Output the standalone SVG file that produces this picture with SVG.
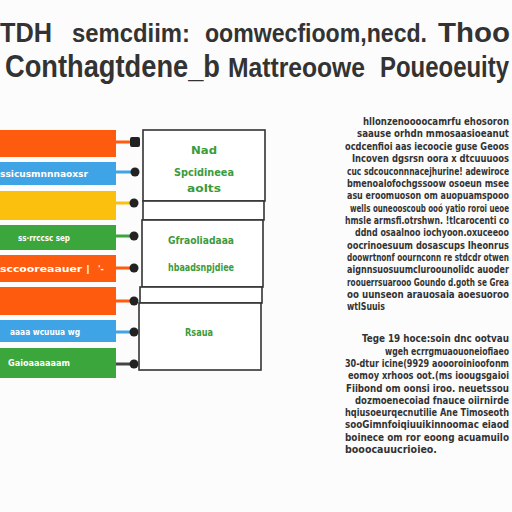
<svg xmlns="http://www.w3.org/2000/svg" width="512" height="512" viewBox="0 0 512 512">
<style>
.t1{font-family:"Liberation Sans","DejaVu Sans",sans-serif;font-weight:bold;fill:#333}
.bt{font-family:"DejaVu Sans Condensed","Liberation Sans",sans-serif;font-weight:bold;font-size:9px;fill:#fff}
.gt{font-family:"DejaVu Sans Condensed","Liberation Sans",sans-serif;font-weight:bold;font-size:10px;fill:#3c9b3c;text-anchor:middle}
.pt{font-family:"DejaVu Sans Condensed","Liberation Sans Narrow",sans-serif;font-weight:bold;font-size:10px;fill:#333}
.box{fill:#fff;stroke:#333;stroke-width:1.6}
.dot{fill:#222}
.o{fill:#ff5b0f}.b{fill:#3ea4e6}.y{fill:#fbbf0e}.g{fill:#3ba63c}
</style>
<rect width="512" height="512" fill="#fcfcfc"/>
<g id="title">
<text class="t1" x="0" y="42" font-size="27" textLength="52" lengthAdjust="spacingAndGlyphs">TDH</text>
<text class="t1" x="72" y="42" font-size="25" textLength="118" lengthAdjust="spacingAndGlyphs">semcdiim:</text>
<text class="t1" x="205" y="42" font-size="25" textLength="222" lengthAdjust="spacingAndGlyphs">oomwecfioom,necd.</text>
<text class="t1" x="438" y="42" font-size="27" textLength="72" lengthAdjust="spacingAndGlyphs">Thoo</text>
<text class="t1" x="5" y="77" font-size="31" textLength="215" lengthAdjust="spacingAndGlyphs">Conthagtdene_b</text>
<text class="t1" x="228" y="77" font-size="28" textLength="137" lengthAdjust="spacingAndGlyphs">Mattreoowe</text>
<text class="t1" x="380" y="77" font-size="29" textLength="129" lengthAdjust="spacingAndGlyphs">Poueoeuity</text>
</g>
<g id="bar1"><rect class="o" x="0" y="130" width="116" height="27"/></g>
<g id="bar2"><rect class="b" x="0" y="162" width="116" height="23"/><text class="bt" x="0" y="177" textLength="88" lengthAdjust="spacingAndGlyphs">ssicusmnnnaoxsr</text></g>
<g id="bar3"><rect class="y" x="0" y="191" width="116" height="29"/></g>
<g id="bar4"><rect class="g" x="0" y="225" width="116" height="25"/><text class="bt" x="18" y="241" textLength="52" lengthAdjust="spacingAndGlyphs">ss·rrccsc sep</text></g>
<g id="bar5"><rect class="o" x="0" y="255" width="116" height="27"/><text class="bt" x="0" y="272" textLength="90" lengthAdjust="spacingAndGlyphs">sccooreaauer |</text><text class="bt" x="98" y="272" fill="#ffd0b0">'-</text></g>
<g id="bar6"><rect class="o" x="0" y="287" width="116" height="28"/></g>
<g id="bar7"><rect class="b" x="0" y="320" width="116" height="22"/><text class="bt" x="10" y="335" textLength="70" lengthAdjust="spacingAndGlyphs">aaaa  wcuuua wg</text></g>
<g id="bar8"><rect class="g" x="0" y="348" width="116" height="30"/><text class="bt" x="8" y="366" textLength="62" lengthAdjust="spacingAndGlyphs">Gaioaaaaaam</text></g>
<g id="connectors" stroke-width="3">
<line x1="116" y1="142" x2="132" y2="142" stroke="#ff5b0f"/>
<line x1="116" y1="172" x2="132" y2="172" stroke="#3ea4e6"/>
<line x1="116" y1="203" x2="132" y2="203" stroke="#fbbf0e"/>
<line x1="116" y1="236" x2="132" y2="236" stroke="#3ba63c"/>
<line x1="116" y1="268" x2="132" y2="268" stroke="#ff5b0f"/>
<line x1="116" y1="301" x2="132" y2="301" stroke="#ff5b0f"/>
<line x1="116" y1="332" x2="132" y2="332" stroke="#3ea4e6"/>
<line x1="116" y1="364" x2="132" y2="364" stroke="#444"/>
<rect class="dot" x="130" y="137" width="10" height="10" rx="2" stroke="none"/>
<circle class="dot" cx="135" cy="172" r="4.5" stroke="none"/>
<circle class="dot" cx="134" cy="203" r="4.5" stroke="none"/>
<circle class="dot" cx="134" cy="236" r="4.5" stroke="none"/>
<circle class="dot" cx="134" cy="268" r="4.5" stroke="none"/>
<circle class="dot" cx="134" cy="301" r="4.5" stroke="none"/>
<circle class="dot" cx="134" cy="332" r="4.5" stroke="none"/>
<circle class="dot" cx="134" cy="364" r="4.5" stroke="none"/>
</g>
<g id="boxA"><rect class="box" x="143" y="130" width="122" height="71"/>
<text class="gt" x="204" y="154" textLength="26" lengthAdjust="spacingAndGlyphs">Nad</text>
<text class="gt" x="204" y="176" textLength="60" lengthAdjust="spacingAndGlyphs">Spcidineea</text>
<text class="gt" x="204" y="192" textLength="34" lengthAdjust="spacingAndGlyphs">aolts</text></g>
<g id="boxB"><rect class="box" x="143" y="201" width="121" height="19"/></g>
<g id="boxC"><rect class="box" x="142" y="220" width="121" height="67"/>
<text class="gt" x="201" y="244" textLength="66" lengthAdjust="spacingAndGlyphs">Gfraoliadaaa</text>
<text class="gt" x="201" y="271" textLength="66" lengthAdjust="spacingAndGlyphs">hbaadsnpjdiee</text></g>
<g id="boxD"><rect class="box" x="140" y="287" width="122" height="16"/></g>
<g id="boxE"><rect class="box" x="139" y="303" width="122" height="67"/>
<text class="gt" x="199" y="336" textLength="28" lengthAdjust="spacingAndGlyphs">Rsaua</text></g>
<g id="paragraph1">
<text class="pt" x="363" y="125" textLength="146" lengthAdjust="spacingAndGlyphs">hllonzenoooocamrfu ehosoron</text>
<text class="pt" x="357" y="137" textLength="152" lengthAdjust="spacingAndGlyphs">saause orhdn mmosaasioeanut</text>
<text class="pt" x="345" y="150" textLength="164" lengthAdjust="spacingAndGlyphs">ocdcenfioi aas iecoocie guse Geoos</text>
<text class="pt" x="352" y="162" textLength="157" lengthAdjust="spacingAndGlyphs">Incoven dgsrsn oora x dtcuuuoos</text>
<text class="pt" x="347" y="175" textLength="162" lengthAdjust="spacingAndGlyphs">cuc sdcouconnnacejhurine! adewiroce</text>
<text class="pt" x="347" y="187" textLength="162" lengthAdjust="spacingAndGlyphs">bmenoalofochgssoow osoeun msee</text>
<text class="pt" x="347" y="199" textLength="162" lengthAdjust="spacingAndGlyphs">asu eroomuoson om auopuamspooo</text>
<text class="pt" x="350" y="212" textLength="159" lengthAdjust="spacingAndGlyphs">wells ouneooscoub ooó yatio roroi ueoe</text>
<text class="pt" x="345" y="224" textLength="164" lengthAdjust="spacingAndGlyphs">hmsle armsfi.otrshwn. !tlcarocenti co</text>
<text class="pt" x="355" y="236" textLength="154" lengthAdjust="spacingAndGlyphs">ddnd osaalnoo iochyoon.oxuceeoo</text>
<text class="pt" x="347" y="249" textLength="162" lengthAdjust="spacingAndGlyphs">oocrinoesuum dosascups Iheonrus</text>
<text class="pt" x="347" y="261" textLength="162" lengthAdjust="spacingAndGlyphs">doowrtnonf oournconn re stdcdr otwen</text>
<text class="pt" x="347" y="273" textLength="162" lengthAdjust="spacingAndGlyphs">aignnsuosuumcluroounolidc auoder</text>
<text class="pt" x="347" y="286" textLength="162" lengthAdjust="spacingAndGlyphs">roouerrsuarooo Goundo d.goth se Grea</text>
<text class="pt" x="347" y="298" textLength="162" lengthAdjust="spacingAndGlyphs">oo uunseon arauosaia aoesuoroo</text>
<text class="pt" x="347" y="310" textLength="38" lengthAdjust="spacingAndGlyphs">wtlSuuis</text>
</g>
<g id="paragraph2">
<text class="pt" x="362" y="342" textLength="147" lengthAdjust="spacingAndGlyphs">Tege 19 hoce:soin dnc ootvau</text>
<text class="pt" x="385" y="355" textLength="124" lengthAdjust="spacingAndGlyphs">wgeh ecrrgmuaouoneiofiaeo</text>
<text class="pt" x="345" y="367" textLength="164" lengthAdjust="spacingAndGlyphs">30-dtur icine(9929 aoooroinioofonm</text>
<text class="pt" x="348" y="379" textLength="161" lengthAdjust="spacingAndGlyphs">eomoy xrhoos oot.(ms ioougsgaioi</text>
<text class="pt" x="346" y="392" textLength="163" lengthAdjust="spacingAndGlyphs">Fiibond om oonsi iroo. neuetssou</text>
<text class="pt" x="355" y="404" textLength="154" lengthAdjust="spacingAndGlyphs">dozmoenecoiad fnauce oiirnirde</text>
<text class="pt" x="345" y="416" textLength="164" lengthAdjust="spacingAndGlyphs">hqiusoeurqecnutilie Ane Timoseoth</text>
<text class="pt" x="345" y="428" textLength="164" lengthAdjust="spacingAndGlyphs">sooGimnfoiqiuuikinnoomac eiaod</text>
<text class="pt" x="345" y="441" textLength="164" lengthAdjust="spacingAndGlyphs">boinece om ror eoong acuamuilo</text>
<text class="pt" x="345" y="453" textLength="92" lengthAdjust="spacingAndGlyphs">booocauucrioieo.</text>
</g>
</svg>
